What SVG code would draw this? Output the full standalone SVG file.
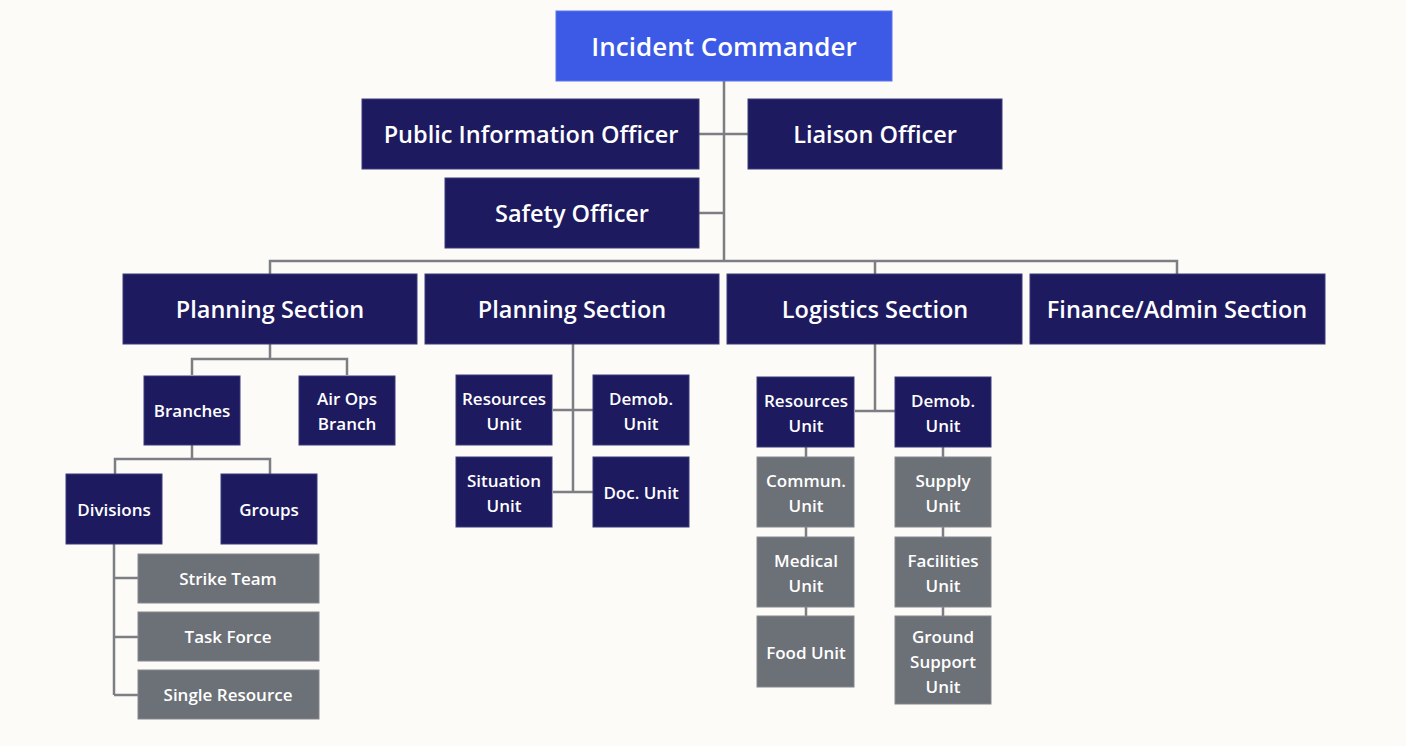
<svg xmlns="http://www.w3.org/2000/svg" width="1406" height="746" viewBox="0 0 1406 746">
<style>
.n{fill:#1d1a60;stroke:#3a3a7a;stroke-width:1}
.ic{fill:#3c5ae6;stroke:#5a74ea;stroke-width:1}
.g{fill:#6c7077;stroke:#85888e;stroke-width:1}
.t{font-family:"Open Sans","Noto Sans",sans-serif;font-weight:600;fill:#ffffff;text-anchor:middle}
.L{font-size:23.5px}
.S{font-size:17px}
.c{fill:none;stroke:#7b7e83;stroke-width:2.5}
</style>
<rect width="1406" height="746" fill="#fdfbf7"/>
<g id="connectors">
<path class="c" d="M724 81V261M699 134H748M699 213H724M270 274V261H1177V274M875 261V274"/>
<path class="c" d="M270 344V359M192 375V359H347V375M192 445V459M115 474V459H270V474M114 544V695M114 578H138M114 637H138M114 695H138"/>
<path class="c" d="M573 344V492M553 410H593M553 492H593"/>
<path class="c" d="M875 344V411M855 411H895M806 447V457M806 527V537M806 607V616M943 447V457M943 527V537M943 607V616"/>
</g>
<g id="incident-commander"><rect class="ic" x="556" y="11" width="336" height="70"/><text class="t" x="724" y="56" font-size="26">Incident Commander</text></g>
<g id="pio"><rect class="n" x="362" y="99" width="337" height="70"/><text class="t L" x="531" y="143">Public Information Officer</text></g>
<g id="liaison"><rect class="n" x="748" y="99" width="254" height="70"/><text class="t L" x="875" y="143">Liaison Officer</text></g>
<g id="safety"><rect class="n" x="445" y="178" width="254" height="70"/><text class="t L" x="572" y="222">Safety Officer</text></g>
<g id="planning-1"><rect class="n" x="123" y="274" width="294" height="70"/><text class="t L" x="270" y="318">Planning Section</text></g>
<g id="planning-2"><rect class="n" x="425" y="274" width="294" height="70"/><text class="t L" x="572" y="318">Planning Section</text></g>
<g id="logistics"><rect class="n" x="727" y="274" width="295" height="70"/><text class="t L" x="875" y="318">Logistics Section</text></g>
<g id="finance"><rect class="n" x="1030" y="274" width="295" height="70"/><text class="t L" x="1177" y="318">Finance/Admin Section</text></g>
<g id="branches"><rect class="n" x="144" y="376" width="96" height="69"/><text class="t S" x="192" y="417">Branches</text></g>
<g id="air-ops"><rect class="n" x="299" y="376" width="96" height="69"/><text class="t S" x="347" y="405">Air Ops</text><text class="t S" x="347" y="430">Branch</text></g>
<g id="divisions"><rect class="n" x="66" y="474" width="96" height="70"/><text class="t S" x="114" y="516">Divisions</text></g>
<g id="groups"><rect class="n" x="221" y="474" width="96" height="70"/><text class="t S" x="269" y="516">Groups</text></g>
<g id="strike-team"><rect class="g" x="138" y="554" width="181" height="49"/><text class="t S" x="228" y="585">Strike Team</text></g>
<g id="task-force"><rect class="g" x="138" y="612" width="181" height="49"/><text class="t S" x="228" y="643">Task Force</text></g>
<g id="single-resource"><rect class="g" x="138" y="670" width="181" height="49"/><text class="t S" x="228" y="701">Single Resource</text></g>
<g id="p-resources"><rect class="n" x="456" y="375" width="96" height="70"/><text class="t S" x="504" y="405">Resources</text><text class="t S" x="504" y="430">Unit</text></g>
<g id="p-demob"><rect class="n" x="593" y="375" width="96" height="70"/><text class="t S" x="641" y="405">Demob.</text><text class="t S" x="641" y="430">Unit</text></g>
<g id="p-situation"><rect class="n" x="456" y="457" width="96" height="70"/><text class="t S" x="504" y="487">Situation</text><text class="t S" x="504" y="512">Unit</text></g>
<g id="p-doc"><rect class="n" x="593" y="457" width="96" height="70"/><text class="t S" x="641" y="499">Doc. Unit</text></g>
<g id="l-resources"><rect class="n" x="757" y="377" width="97" height="70"/><text class="t S" x="806" y="407">Resources</text><text class="t S" x="806" y="432">Unit</text></g>
<g id="l-demob"><rect class="n" x="895" y="377" width="96" height="70"/><text class="t S" x="943" y="407">Demob.</text><text class="t S" x="943" y="432">Unit</text></g>
<g id="commun"><rect class="g" x="757" y="457" width="97" height="70"/><text class="t S" x="806" y="487">Commun.</text><text class="t S" x="806" y="512">Unit</text></g>
<g id="medical"><rect class="g" x="757" y="537" width="97" height="70"/><text class="t S" x="806" y="567">Medical</text><text class="t S" x="806" y="592">Unit</text></g>
<g id="food"><rect class="g" x="757" y="616" width="97" height="71"/><text class="t S" x="806" y="659">Food Unit</text></g>
<g id="supply"><rect class="g" x="895" y="457" width="96" height="70"/><text class="t S" x="943" y="487">Supply</text><text class="t S" x="943" y="512">Unit</text></g>
<g id="facilities"><rect class="g" x="895" y="537" width="96" height="70"/><text class="t S" x="943" y="567">Facilities</text><text class="t S" x="943" y="592">Unit</text></g>
<g id="ground-support"><rect class="g" x="895" y="616" width="96" height="88"/><text class="t S" x="943" y="643">Ground</text><text class="t S" x="943" y="668">Support</text><text class="t S" x="943" y="693">Unit</text></g>
</svg>
